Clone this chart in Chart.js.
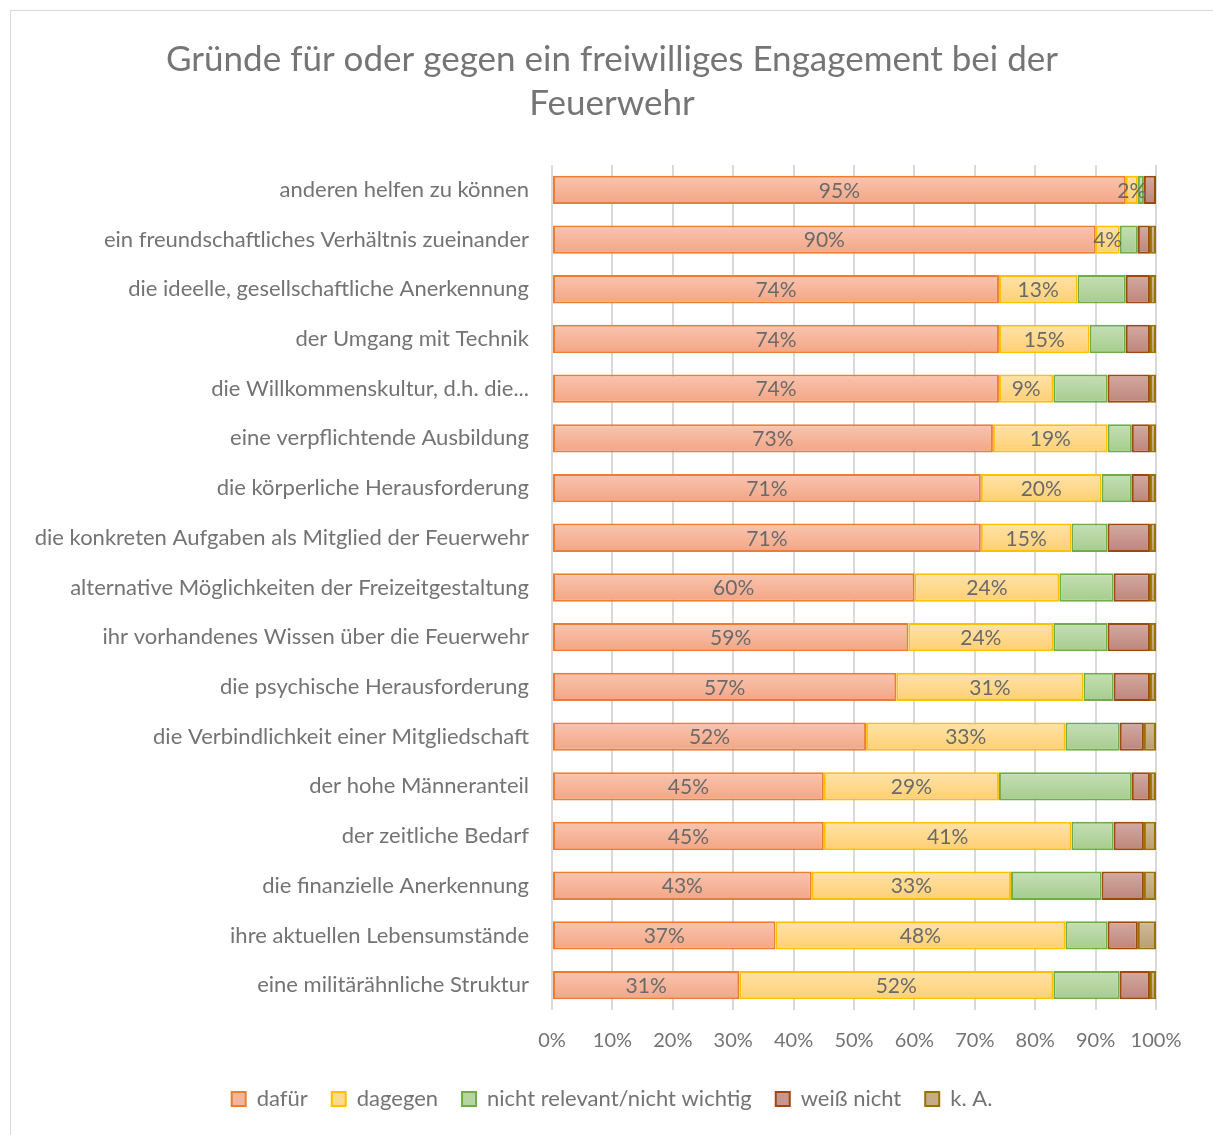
<!DOCTYPE html>
<html>
<head>
<meta charset="utf-8">
<script src="https://cdn.jsdelivr.net/npm/chart.js@4/dist/chart.umd.min.js"></script>
<style>
  html, body { margin: 0; padding: 0; background: #ffffff; }
  #wrap { position: relative; width: 1213px; height: 1135px; overflow: hidden; }
  #frame { position: absolute; left: 10px; top: 10px; width: 1220px; height: 1140px; border: 1px solid #d9d9d9; box-sizing: border-box; }
  canvas { position: absolute; left: 0; top: 0; }
</style>
</head>
<body>
<div id="wrap">
  <div id="frame"></div>
  <canvas id="c" width="1213" height="1135"></canvas>
</div>
<script>
const titleLines = ["Gründe für oder gegen ein freiwilliges Engagement bei der", "Feuerwehr"];
const categories = [
  "anderen helfen zu können",
  "ein freundschaftliches Verhältnis zueinander",
  "die ideelle, gesellschaftliche Anerkennung",
  "der Umgang mit Technik",
  "die Willkommenskultur, d.h. die...",
  "eine verpflichtende Ausbildung",
  "die körperliche Herausforderung",
  "die konkreten Aufgaben als Mitglied der Feuerwehr",
  "alternative Möglichkeiten der Freizeitgestaltung",
  "ihr vorhandenes Wissen über die Feuerwehr",
  "die psychische Herausforderung",
  "die Verbindlichkeit einer Mitgliedschaft",
  "der hohe Männeranteil",
  "der zeitliche Bedarf",
  "die finanzielle Anerkennung",
  "ihre aktuellen Lebensumstände",
  "eine militärähnliche Struktur"
];
const seriesNames = ["dafür", "dagegen", "nicht relevant/nicht wichtig", "weiß nicht", "k. A."];
const dafuer       = [95, 90, 74, 74, 74, 73, 71, 71, 60, 59, 57, 52, 45, 45, 43, 37, 31];
const dagegen      = [ 2,  4, 13, 15,  9, 19, 20, 15, 24, 24, 31, 33, 29, 41, 33, 48, 52];
const nichtRelevant= [ 1,  3,  8,  6,  9,  4,  5,  6,  9,  9,  5,  9, 22,  7, 15,  7, 11];
const weissNicht   = [ 2,  2,  4,  4,  7,  3,  3,  7,  6,  7,  6,  4,  3,  5,  7,  5,  5];
const keineAngabe  = [ 0,  1,  1,  1,  1,  1,  1,  1,  1,  1,  1,  2,  1,  2,  2,  3,  1];
const xTicks = [0, 10, 20, 30, 40, 50, 60, 70, 80, 90, 100];

const fillTop = ["#F9C5B0", "#FFE3A8", "#C5DFB6", "#D3AAA2", "#D0BB9C"];
const fillBot = ["#F3A584", "#FFCF73", "#A5CC8C", "#BE8579", "#B99D70"];
const fills   = ["#F6B59A", "#FFD98C", "#B5D6A1", "#C9978D", "#C5AC86"];
const borders = ["#ED7D31", "#FFC000", "#70AD47", "#9E480E", "#997300"];
const labeled = [true, true, false, false, false];
const seriesData = [dafuer, dagegen, nichtRelevant, weissNicht, keineAngabe];

const FONT = "Lato, 'Open Sans', sans-serif";
const GREY = "#737373";
const BAR_PCT = 0.57;

function gradFill(i) {
  return (ctx) => {
    const chart = ctx.chart;
    const ys = chart.scales && chart.scales.y;
    if (ctx.type !== "data" || !ys || !ys.height) return fills[i];
    const yc = ys.getPixelForValue(ctx.dataIndex);
    const half = ys.height / categories.length * BAR_PCT / 2;
    const g = chart.ctx.createLinearGradient(0, yc - half, 0, yc + half);
    g.addColorStop(0, fillTop[i]);
    g.addColorStop(1, fillBot[i]);
    return g;
  };
}

const datasets = seriesData.map((d, i) => ({
  label: seriesNames[i],
  data: d,
  backgroundColor: gradFill(i),
  borderColor: borders[i],
  borderWidth: 2,
  borderSkipped: false,
  categoryPercentage: 1.0,
  barPercentage: BAR_PCT
}));

const labelPlugin = {
  id: "segLabels",
  afterLayout(chart) {
    // let long category labels extend left of the padded area (no clipping)
    chart.scales.y.left = 0;
  },
  afterDatasetsDraw(chart) {
    const ctx = chart.ctx;
    ctx.save();
    ctx.font = "21px " + FONT;
    ctx.fillStyle = "#6a6a6a";
    ctx.textAlign = "center";
    ctx.textBaseline = "middle";
    chart.data.datasets.forEach((ds, di) => {
      if (!labeled[di]) return;
      const meta = chart.getDatasetMeta(di);
      meta.data.forEach((el, j) => {
        const v = ds.data[j];
        if (!v) return;
        const p = el.getProps(["x", "y", "base"], true);
        ctx.fillText(v + "%", (p.x + p.base) / 2, p.y + 1);
      });
    });
    ctx.restore();
  }
};

new Chart(document.getElementById("c"), {
  type: "bar",
  data: { labels: categories, datasets },
  plugins: [labelPlugin],
  options: {
    responsive: false,
    animation: false,
    indexAxis: "y",
    layout: { padding: { left: 68, right: 57, top: 0, bottom: 15 } },
    plugins: {
      title: {
        display: true,
        text: titleLines,
        color: "#757575",
        font: { family: FONT, size: 35, weight: "normal", lineHeight: 1.257 },
        padding: { top: 38, bottom: 39 }
      },
      legend: {
        position: "bottom",
        labels: {
          color: GREY,
          font: { family: FONT, size: 22 },
          boxWidth: 14,
          boxHeight: 14,
          padding: 24,
          generateLabels(chart) {
            return chart.data.datasets.map((ds, i) => ({
              text: ds.label,
              fillStyle: fills[i],
              strokeStyle: borders[i],
              lineWidth: 2,
              fontColor: GREY,
              datasetIndex: i,
              hidden: false
            }));
          }
        }
      },
      tooltip: { enabled: false }
    },
    scales: {
      x: {
        stacked: true,
        min: 0,
        max: 100,
        afterBuildTicks(scale) { scale.ticks = xTicks.map(v => ({ value: v })); },
        afterFit(scale) { scale.height = 54; },
        ticks: {
          color: GREY,
          font: { family: FONT, size: 20 },
          padding: 19,
          callback: v => v + "%"
        },
        grid: { color: "#D9D9D9", lineWidth: 2, drawTicks: false },
        border: { display: false }
      },
      y: {
        stacked: true,
        afterFit(scale) { scale.width = 552 - 68; },
        ticks: {
          color: GREY,
          font: { family: FONT, size: 22 },
          padding: 23,
          autoSkip: false
        },
        grid: { display: false, drawTicks: false },
        border: { display: false }
      }
    }
  }
});
</script>
</body>
</html>
